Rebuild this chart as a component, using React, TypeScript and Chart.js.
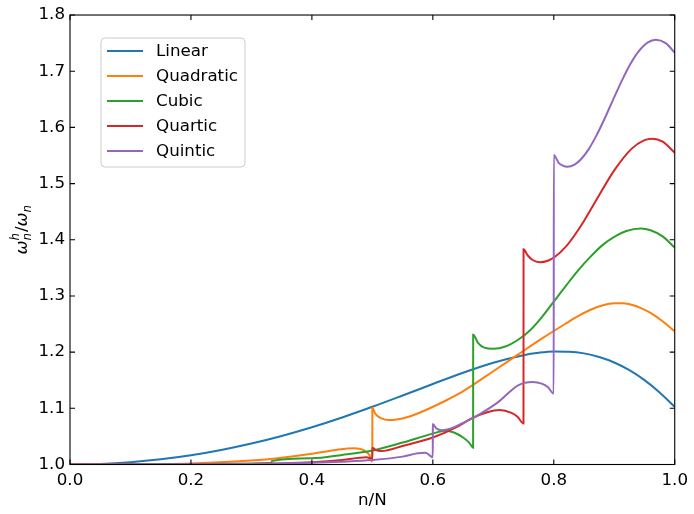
import React, { useEffect, useRef } from "react";
import { Chart, registerables } from "chart.js";

Chart.register(...registerables);

const seriesNames = ["Linear", "Quadratic", "Cubic", "Quartic", "Quintic"];
const seriesColors = ["#1f77b4", "#ff7f0e", "#2ca02c", "#d62728", "#9467bd"];

const xTicks = [0, 0.2, 0.4, 0.6, 0.8, 1.0];
const yTicks = [1.0, 1.1, 1.2, 1.3, 1.4, 1.5, 1.6, 1.7, 1.8];

const linearX = [0, 0.05, 0.1, 0.15, 0.2, 0.25, 0.3, 0.35, 0.4, 0.45, 0.5, 0.55, 0.6, 0.65, 0.7, 0.75, 0.775, 0.8, 0.825, 0.85, 0.875, 0.9, 0.925, 0.95, 0.975, 1.0];
const linearY = [1, 1.001, 1.0041, 1.0093, 1.0165, 1.0259, 1.0373, 1.0508, 1.0663, 1.0837, 1.1027, 1.1228, 1.1433, 1.1633, 1.1811, 1.1946, 1.1989, 1.2012, 1.2008, 1.1978, 1.1912, 1.1815, 1.1678, 1.1501, 1.1283, 1.1027];

const quadX = [0, 0.1, 0.2, 0.3, 0.35, 0.4, 0.44, 0.47, 0.485, 0.495, 0.4999, 0.5, 0.505, 0.515, 0.527, 0.54, 0.56, 0.58, 0.62, 0.643, 0.664, 0.7, 0.74, 0.78, 0.82, 0.84, 0.86, 0.88, 0.9, 0.915, 0.93, 0.945, 0.96, 0.98, 1.0];
const quadY = [1.0, 1.0003, 1.002, 1.007, 1.012, 1.019, 1.026, 1.029, 1.026, 1.017, 1.005, 1.101, 1.09, 1.082, 1.079, 1.08, 1.085, 1.093, 1.113, 1.126, 1.14, 1.166, 1.195, 1.224, 1.251, 1.264, 1.275, 1.283, 1.287, 1.287, 1.284, 1.278, 1.27, 1.255, 1.237];

const cubicX = [0, 0.1, 0.2, 0.3, 0.3333, 0.3334, 0.4, 0.45, 0.5, 0.55, 0.6, 0.62, 0.635, 0.65, 0.66, 0.6666, 0.6667, 0.675, 0.685, 0.7, 0.72, 0.741, 0.76, 0.78, 0.8, 0.82, 0.84, 0.86, 0.88, 0.9, 0.92, 0.944, 0.96, 0.98, 1.0];
const cubicY = [1.0, 1.0, 1.0003, 1.002, 1.003, 1.006, 1.011, 1.017, 1.025, 1.039, 1.055, 1.06, 1.057, 1.048, 1.039, 1.03, 1.231, 1.216, 1.208, 1.206, 1.21, 1.222, 1.238, 1.262, 1.29, 1.318, 1.345, 1.369, 1.39, 1.405, 1.4156, 1.42, 1.417, 1.406, 1.386];

const quarticX = [0, 0.1, 0.2, 0.25, 0.3, 0.35, 0.4, 0.45, 0.49, 0.4999, 0.5, 0.505, 0.515, 0.55, 0.6, 0.64, 0.664, 0.69, 0.71, 0.73, 0.74, 0.7499, 0.75, 0.757, 0.765, 0.777, 0.79, 0.802, 0.82, 0.835, 0.85, 0.873, 0.9, 0.928, 0.95, 0.963, 0.98, 1.0];
const quarticY = [1, 1, 1.0001, 1.0003, 1.001, 1.002, 1.004, 1.008, 1.013, 1.01, 1.03, 1.026, 1.024, 1.033, 1.048, 1.067, 1.082, 1.093, 1.097, 1.092, 1.085, 1.073, 1.383, 1.372, 1.364, 1.36, 1.3626, 1.3697, 1.3878, 1.409, 1.4335, 1.4756, 1.5234, 1.5613, 1.5773, 1.58, 1.5747, 1.555];

const quinticX = [0, 0.1, 0.2, 0.3, 0.4, 0.45, 0.5, 0.55, 0.575, 0.588, 0.5999, 0.6, 0.606, 0.615, 0.63, 0.648, 0.675, 0.708, 0.741, 0.765, 0.78, 0.79, 0.7999, 0.8, 0.808, 0.815, 0.822, 0.835, 0.845, 0.857, 0.87, 0.884, 0.898, 0.912, 0.926, 0.94, 0.955, 0.969, 0.985, 1.0];
const quinticY = [1, 1, 1.0003, 1.001, 1.003, 1.005, 1.008, 1.014, 1.02, 1.021, 1.013, 1.072, 1.064, 1.061, 1.064, 1.073, 1.088, 1.111, 1.141, 1.147, 1.144, 1.138, 1.126, 1.551, 1.537, 1.532, 1.53, 1.5343, 1.5434, 1.56, 1.5844, 1.6155, 1.649, 1.682, 1.7116, 1.7349, 1.7509, 1.756, 1.7499, 1.733];

const seriesX = [linearX, quadX, cubicX, quarticX, quinticX];
const seriesY = [linearY, quadY, cubicY, quarticY, quinticY];

const FONT = "'DejaVu Sans', sans-serif";
const FS = 16.7;

const decorPlugin = {
  id: "decor",
  afterDraw(chart: any) {
    const ctx = chart.ctx;
    const ca = chart.chartArea;
    const xs = chart.scales.x;
    const ys = chart.scales.y;
    ctx.save();
    ctx.strokeStyle = "#000";
    ctx.lineWidth = 1.1;
    ctx.strokeRect(ca.left, ca.top, ca.right - ca.left, ca.bottom - ca.top);
    const tl = 5;
    ctx.beginPath();
    xTicks.forEach((v) => {
      const px = xs.getPixelForValue(v);
      ctx.moveTo(px, ca.bottom);
      ctx.lineTo(px, ca.bottom - tl);
      ctx.moveTo(px, ca.top);
      ctx.lineTo(px, ca.top + tl);
    });
    yTicks.forEach((v) => {
      const py = ys.getPixelForValue(v);
      ctx.moveTo(ca.left, py);
      ctx.lineTo(ca.left + tl, py);
      ctx.moveTo(ca.right, py);
      ctx.lineTo(ca.right - tl, py);
    });
    ctx.stroke();

    ctx.fillStyle = "#000";
    ctx.font = `${FS}px ${FONT}`;
    ctx.textAlign = "center";
    ctx.textBaseline = "middle";
    ctx.fillText("n/N", (ca.left + ca.right) / 2, 501);

    ctx.save();
    ctx.translate(21, (ca.top + ca.bottom) / 2 - 10);
    ctx.rotate(-Math.PI / 2);
    ctx.textAlign = "left";
    ctx.textBaseline = "alphabetic";
    const big = `italic ${FS}px ${FONT}`;
    const small = `italic 11.7px ${FONT}`;
    const up = `${FS}px ${FONT}`;
    ctx.font = big;
    const wOm = ctx.measureText("ω").width;
    ctx.font = small;
    const wN = ctx.measureText("n").width;
    const wH = ctx.measureText("h").width;
    ctx.font = up;
    const wSl = ctx.measureText("/").width;
    const total = wOm + Math.max(wN, wH) + 1 + wSl + wOm + wN;
    let cx = -total / 2;
    const base = 6;
    ctx.font = big;
    ctx.fillText("ω", cx, base);
    cx += wOm;
    ctx.font = small;
    ctx.fillText("h", cx, base - 8);
    ctx.fillText("n", cx, base + 3.5);
    cx += Math.max(wN, wH) + 1;
    ctx.font = up;
    ctx.fillText("/", cx, base);
    cx += wSl;
    ctx.font = big;
    ctx.fillText("ω", cx, base);
    cx += wOm;
    ctx.font = small;
    ctx.fillText("n", cx, base + 3.5);
    ctx.restore();

    const lx = ca.left + 31;
    const ly = ca.top + 23;
    const lw = 144;
    const lh = 129;
    ctx.beginPath();
    const r = 4;
    ctx.moveTo(lx + r, ly);
    ctx.lineTo(lx + lw - r, ly);
    ctx.arcTo(lx + lw, ly, lx + lw, ly + r, r);
    ctx.lineTo(lx + lw, ly + lh - r);
    ctx.arcTo(lx + lw, ly + lh, lx + lw - r, ly + lh, r);
    ctx.lineTo(lx + r, ly + lh);
    ctx.arcTo(lx, ly + lh, lx, ly + lh - r, r);
    ctx.lineTo(lx, ly + r);
    ctx.arcTo(lx, ly, lx + r, ly, r);
    ctx.closePath();
    ctx.fillStyle = "rgba(255,255,255,0.8)";
    ctx.fill();
    ctx.strokeStyle = "#cccccc";
    ctx.lineWidth = 1;
    ctx.stroke();
    ctx.font = `${FS}px ${FONT}`;
    ctx.textAlign = "left";
    ctx.textBaseline = "middle";
    seriesNames.forEach((name, i) => {
      const yy = ly + 13 + i * 25;
      ctx.strokeStyle = seriesColors[i];
      ctx.lineWidth = 2;
      ctx.beginPath();
      ctx.moveTo(lx + 6, yy);
      ctx.lineTo(lx + 42, yy);
      ctx.stroke();
      ctx.fillStyle = "#000";
      ctx.fillText(name, lx + 55, yy + 1);
    });
    ctx.restore();
  },
};

export default function App() {
  const ref = useRef<HTMLCanvasElement | null>(null);
  useEffect(() => {
    if (!ref.current) return;
    Chart.defaults.font.family = FONT;
    Chart.defaults.font.size = FS;
    Chart.defaults.color = "#000";
    const datasets = seriesNames.map((name, i) => ({
      label: name,
      data: seriesX[i].map((x, j) => ({ x, y: seriesY[i][j] })),
      borderColor: seriesColors[i],
      backgroundColor: seriesColors[i],
      borderWidth: 2,
      pointRadius: 0,
      cubicInterpolationMode: "monotone" as const,
      order: seriesNames.length - i,
      fill: false,
    }));
    const chart = new Chart(ref.current, {
      type: "line",
      data: { datasets },
      options: {
        animation: false,
        responsive: false,
        maintainAspectRatio: false,
        devicePixelRatio: 1,
        layout: { padding: { top: 13, right: 15, left: 0, bottom: 0 } },
        plugins: { legend: { display: false }, tooltip: { enabled: false } },
        scales: {
          x: {
            type: "linear",
            min: 0,
            max: 1,
            grid: { display: false, drawTicks: false },
            border: { display: false },
            afterBuildTicks: (s: any) => {
              s.ticks = xTicks.map((v) => ({ value: v }));
            },
            ticks: { padding: 6, maxRotation: 0, callback: (v: any) => Number(v).toFixed(1), color: "#000", font: { size: FS } },
            afterFit: (s: any) => {
              s.height = 49.5;
            },
          },
          y: {
            type: "linear",
            min: 1.0,
            max: 1.8,
            grid: { display: false, drawTicks: false },
            border: { display: false },
            afterBuildTicks: (s: any) => {
              s.ticks = yTicks.map((v) => ({ value: v }));
            },
            ticks: { padding: 5, callback: (v: any) => Number(v).toFixed(1), color: "#000", font: { size: FS } },
            afterFit: (s: any) => {
              s.width = 70;
            },
          },
        },
      },
      plugins: [decorPlugin],
    });
    return () => chart.destroy();
  }, []);
  return (
    <div style={{ position: "fixed", left: 0, top: 0, width: 694, height: 514, background: "#fff" }}>
      <canvas ref={ref} width={694} height={514} style={{ width: 694, height: 514, display: "block" }} />
    </div>
  );
}
